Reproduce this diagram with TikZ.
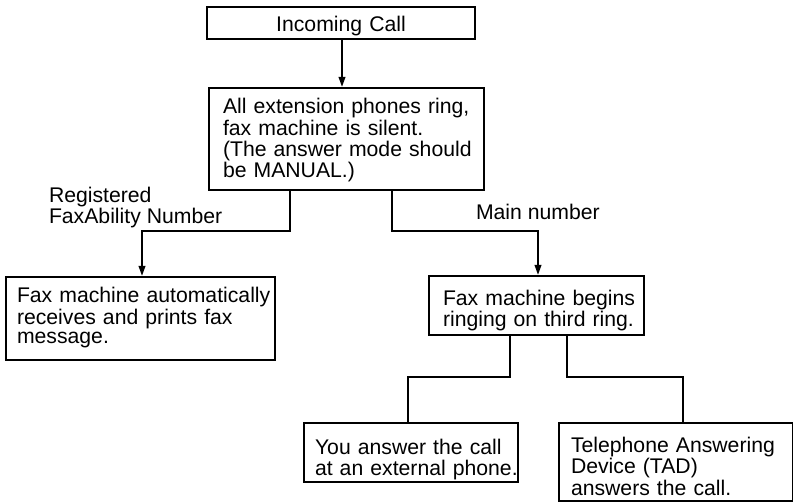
\documentclass[tikz,border=0pt]{standalone}
\usepackage{fontspec}
\setmainfont{Liberation Sans}
\usetikzlibrary{arrows.meta,calc}
\newcommand{\mlines}[2]{\begin{tabular}{@{}l@{}}\rule{0pt}{#1}#2\end{tabular}}
\begin{document}
\begin{tikzpicture}[x=1pt,y=-1pt,
  font=\fontsize{21.2}{19.7}\selectfont,
  line width=2pt,
  box/.style={draw, rectangle, anchor=north west, align=left, inner ysep=0pt},
  arr/.style={-{Triangle[length=10pt,width=6.5pt]}},
  lbl/.style={inner sep=0pt, align=left}]
\useasboundingbox (0,0) rectangle (793,502);
\node[box, minimum width=268pt, minimum height=32pt, inner xsep=0pt, text width=268pt, align=center] (inc) at (206,6) {\rule{0pt}{21pt}Incoming Call};
\node[box, minimum width=275pt, minimum height=102pt, inner xsep=14pt, text width=247pt] (main) at (208,87)
  {\mlines{19.5pt}{All extension phones ring,\\fax machine is silent.\\(The answer mode should\\be MANUAL.)}};
\node[box, minimum width=269pt, minimum height=83pt, inner xsep=11pt, text width=247pt] (lbox) at (5,276)
  {\mlines{0pt}{Fax machine automatically\\receives and prints fax\\message.}};
\node[box, minimum width=215pt, minimum height=59pt, inner xsep=14pt, text width=187pt] (fbox) at (428,275)
  {\mlines{27.5pt}{Fax machine begins\\ringing on third ring.}};
\node[box, minimum width=214pt, minimum height=59pt, inner xsep=11pt, text width=192pt] (ybox) at (303,422)
  {\mlines{31pt}{You answer the call\\at an external phone.}};
\node[box, minimum width=234pt, minimum height=78pt, inner xsep=12pt, text width=210pt] (tbox) at (558,422)
  {\mlines{29.5pt}{Telephone Answering\\Device (TAD)\\answers the call.}};
\node[lbl, anchor=north west] (reg) at (48,186) {Registered\\FaxAbility Number};
\node[lbl, anchor=base west] (mainno) at (475,220) {Main number};
\draw[arr] ($(inc.south west)+(136,0)$) -- ($(main.north west)+(134,0)$);
\draw[arr] ($(main.south west)+(82,0)$) -- ++(0,40) -| ($(lbox.north west)+(137,0)$);
\draw[arr] ($(main.south west)+(184,0)$) -- ++(0,40) -| ($(fbox.north west)+(110,0)$);
\draw ($(fbox.south west)+(82,0)$) -- ++(0,41) -| ($(ybox.north west)+(105,0)$);
\draw ($(fbox.south west)+(139,0)$) -- ++(0,41) -| ($(tbox.north west)+(125,0)$);
\end{tikzpicture}
\end{document}
